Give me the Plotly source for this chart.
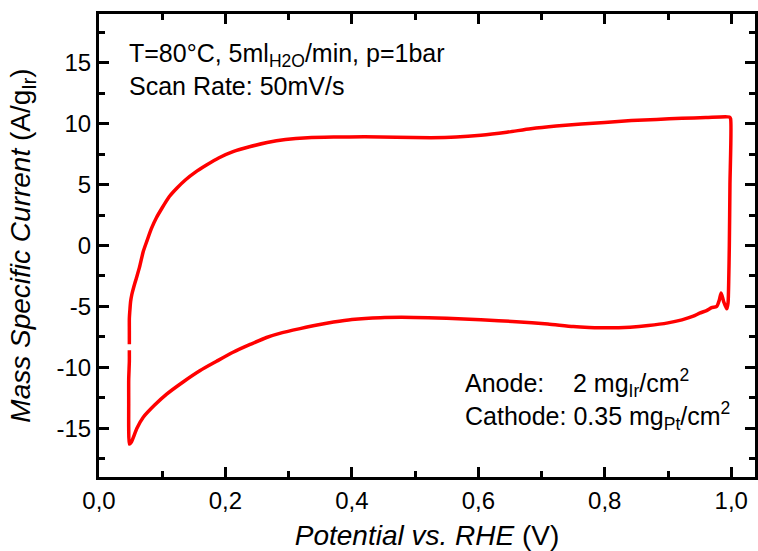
import plotly.graph_objects as go

# Cyclic voltammogram (potential V vs RHE, current A/g_Ir)
potential = [0.048, 0.048, 0.048, 0.049, 0.050, 0.052, 0.055, 0.059, 0.064, 0.070, 0.076,
             0.083, 0.091, 0.100, 0.111, 0.123, 0.137, 0.152, 0.170, 0.190, 0.212, 0.238,
             0.266, 0.295, 0.330, 0.371, 0.420, 0.470, 0.525, 0.565, 0.604, 0.645, 0.683,
             0.723, 0.763, 0.800, 0.842, 0.882, 0.922, 0.960, 0.997, 0.999, 0.998, 0.997,
             0.996, 0.995, 0.993, 0.988, 0.984, 0.981, 0.977, 0.969, 0.961, 0.950, 0.940,
             0.922, 0.900, 0.869, 0.840, 0.805, 0.775, 0.750, 0.710, 0.660, 0.604, 0.550,
             0.498, 0.445, 0.400, 0.371, 0.345, 0.318, 0.290, 0.265, 0.240, 0.212, 0.186,
             0.160, 0.133, 0.107, 0.088, 0.070, 0.060, 0.051, 0.048, 0.047, 0.047, 0.047,
             0.048, 0.048]
current = [-8.1, -7.0, -6.0, -5.2, -4.6, -4.0, -3.4, -2.7, -1.8, -0.5, 0.4,
           1.4, 2.3, 3.1, 4.0, 4.7, 5.4, 6.0, 6.6, 7.2, 7.7, 8.1,
           8.45, 8.7, 8.85, 8.9, 8.92, 8.88, 8.85, 8.9, 9.05, 9.3, 9.58,
           9.8, 9.97, 10.1, 10.25, 10.35, 10.44, 10.5, 10.55, 10.4, 5.0, 0.0,
           -3.0, -4.7, -5.2, -4.6, -3.9, -4.5, -5.0, -5.1, -5.34, -5.55, -5.8,
           -6.1, -6.35, -6.57, -6.7, -6.76, -6.72, -6.65, -6.45, -6.25, -6.1, -5.97,
           -5.9, -5.92, -6.07, -6.28, -6.52, -6.82, -7.15, -7.55, -8.1, -8.76, -9.5,
           -10.26, -11.2, -12.2, -13.1, -14.1, -15.0, -16.15, -16.3, -15.0, -13.0, -11.0,
           -9.5, -8.6]

x_tick_vals = [0.0, 0.2, 0.4, 0.6, 0.8, 1.0]
x_tick_text = ["0,0", "0,2", "0,4", "0,6", "0,8", "1,0"]
y_tick_vals = [-15, -10, -5, 0, 5, 10, 15]
y_tick_text = ["-15", "-10", "-5", "0", "5", "10", "15"]

FONT = "Liberation Sans, Arial, sans-serif"

fig = go.Figure()
fig.add_trace(go.Scatter(x=potential, y=current, mode="lines",
                         line=dict(color="#ff0000", width=3.5, shape="spline", smoothing=0.6),
                         showlegend=False))

axis_common = dict(showgrid=False, zeroline=False, ticks="inside", ticklen=10, tickwidth=3,
                   tickcolor="black", linecolor="black", linewidth=3, showline=True,
                   mirror="ticks", tickfont=dict(family=FONT, size=24, color="black"))

fig.update_layout(
    width=758, height=551,
    margin=dict(l=99, r=0, t=14, b=74),
    plot_bgcolor="white", paper_bgcolor="white",
    font=dict(family=FONT, color="black"),
    xaxis=dict(range=[0, 1.0376], tickvals=x_tick_vals, ticktext=x_tick_text,
               minor=dict(ticks="inside", ticklen=6, tickwidth=2.5, tickcolor="black", dtick=0.1),
               title=dict(text="<i>Potential vs. RHE</i> (V)", font=dict(family=FONT, size=28),
                          standoff=15),
               **axis_common),
    yaxis=dict(range=[-19, 19], tickvals=y_tick_vals, ticktext=y_tick_text,
               minor=dict(ticks="inside", ticklen=6, tickwidth=2.5, tickcolor="black", dtick=2.5),
               title=dict(text="<i>Mass Specific Current</i> (A/g<sub>Ir</sub>)",
                          font=dict(family=FONT, size=28), standoff=18),
               **axis_common),
)

ann_font = dict(family=FONT, size=25, color="black")
annotations = [
    ("T=80°C, 5ml<sub>H2O</sub>/min, p=1bar", 0.044, 15.6),
    ("Scan Rate: 50mV/s", 0.044, 13.1),
    ("Anode:", 0.575, -11.29),
    ("2 mg<sub>Ir</sub>/cm<sup>2</sup>", 0.747, -11.29),
    ("Cathode: 0.35 mg<sub>Pt</sub>/cm<sup>2</sup>", 0.575, -14.0),
]
for text, ax, ay in annotations:
    fig.add_annotation(text=text, x=ax, y=ay, xref="x", yref="y", showarrow=False,
                       xanchor="left", yanchor="middle", font=ann_font)

fig.write_html("out.html")
